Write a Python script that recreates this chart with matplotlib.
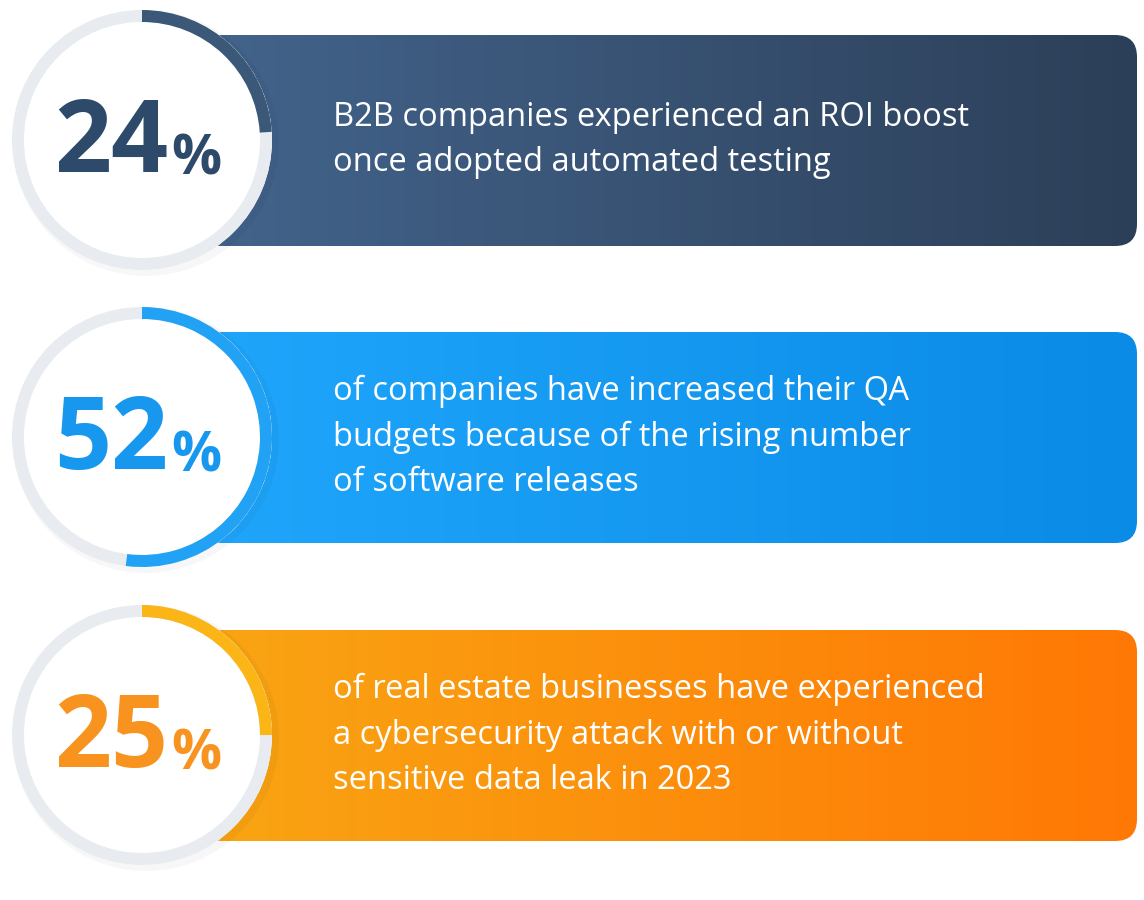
import matplotlib.pyplot as plt
import numpy as np
from matplotlib.patches import FancyBboxPatch, Circle, Wedge
from matplotlib.colors import LinearSegmentedColormap

# données
percents = [24, 52, 25]
texts = [
    "B2B companies experienced an ROI boost\nonce adopted automated testing",
    "of companies have increased their QA\nbudgets because of the rising number\nof software releases",
    "of real estate businesses have experienced\na cybersecurity attack with or without\nsensitive data leak in 2023",
]
num_colors = ["#2d4a6b", "#1797ee", "#f7931e"]
arc_colors = ["#3b5878", "#22a2f4", "#fbb516"]
grad_left = ["#43648c", "#1fa6fb", "#f9a513"]
grad_right = ["#2c3f58", "#0a8be6", "#ff7805"]

W, H = 1144, 900
fig = plt.figure(figsize=(W / 100, H / 100), dpi=100)
ax = fig.add_axes([0, 0, 1, 1])
ax.set_xlim(0, W)
ax.set_ylim(H, 0)
ax.axis("off")

centers_y = [140, 437, 735]
R = 130
for i, (p, txt) in enumerate(zip(percents, texts)):
    cy = centers_y[i]
    top, bot = cy - 105, cy + 106
    # bannière avec dégradé
    box = FancyBboxPatch((200, top), 937, bot - top,
                         boxstyle="round,pad=0,rounding_size=22",
                         fc="none", ec="none", zorder=1)
    ax.add_patch(box)
    cmap = LinearSegmentedColormap.from_list("g", [grad_left[i], grad_right[i]])
    grad = np.linspace(0, 1, 256).reshape(1, -1)
    im = ax.imshow(grad, extent=[200, 1137, bot, top], cmap=cmap,
                   aspect="auto", zorder=1)
    im.set_clip_path(box)
    ax.text(333, cy, txt, color="white", fontsize=23.5,
            family="Open Sans", va="center", ha="left",
            linespacing=1.5, zorder=3)

    # ombre + cercle
    ax.add_patch(Circle((146, cy + 3), R + 3, fc="#000000", alpha=0.03, ec="none", zorder=2))
    ax.add_patch(Circle((142, cy), R, fc="white", ec="none", zorder=3))
    ax.add_patch(Wedge((142, cy), R, 0, 360, width=12, fc="#e8ecf0", ec="none", zorder=4))
    # arc de progression (sens horaire depuis le haut, y inversé)
    ang = 360 * p / 100
    ax.add_patch(Wedge((142, cy), R, 270, 270 + ang, width=12,
                       fc=arc_colors[i], ec="none", zorder=5))

    ax.text(168, cy + 5, str(p), color=num_colors[i], fontsize=72,
            fontweight="bold", family="Open Sans", ha="right", va="center",
            zorder=6)
    ax.text(171, cy + 20, "%", color=num_colors[i], fontsize=40,
            fontweight="bold", family="Open Sans", ha="left", va="center",
            zorder=6)

fig.savefig("out.png", dpi=100, facecolor="white")
